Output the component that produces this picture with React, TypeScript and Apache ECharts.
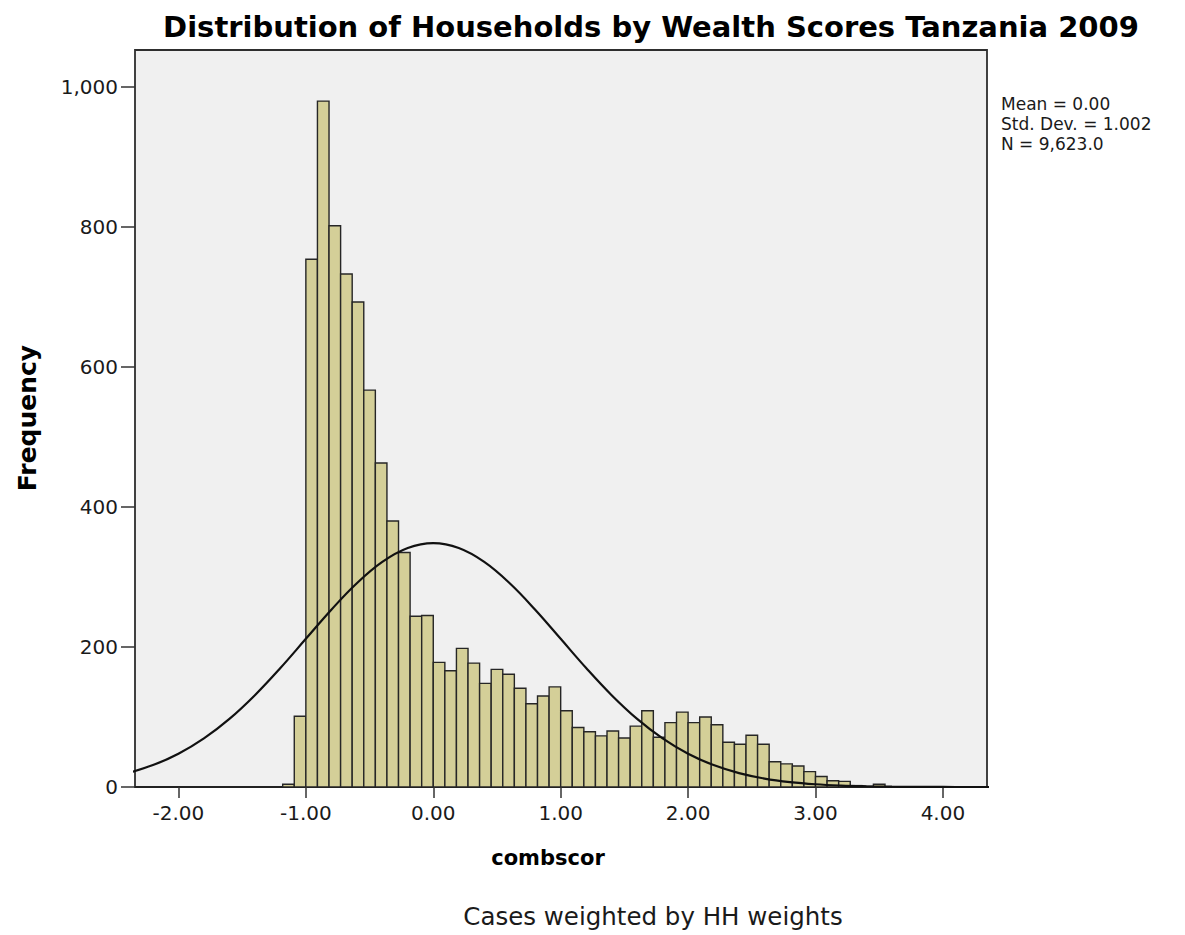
import React, { useEffect, useRef } from "react";
import * as echarts from "echarts";

// Histogram bins: width 1/11, first edge at -13/11
const BIN_WIDTH = 1 / 11;
const FIRST_EDGE = -13 / 11;
const counts = [
  4, 101, 754, 980, 802, 733, 693, 567, 463, 380, 335, 244, 245,
  178, 166, 198, 177, 148, 168, 161, 141, 119, 130, 143,
  109, 85, 79, 73, 80, 70, 87, 109, 71, 92, 107,
  92, 100, 89, 64, 61, 74, 61, 36, 33, 30, 22,
  15, 9, 8, 2, 1, 4,
];

// Normal curve
const normalX = [
  -2.4, -2.2, -2.0, -1.8, -1.6, -1.4, -1.2, -1.0, -0.8, -0.6, -0.4, -0.2, 0.0,
  0.2, 0.4, 0.6, 0.8, 1.0, 1.2, 1.4, 1.6, 1.8, 2.0, 2.2, 2.4, 2.6, 2.8, 3.0,
  3.2, 3.4, 3.6, 3.8, 4.0, 4.2, 4.4,
];
const normalY = [
  19.8, 31.3, 47.5, 69.4, 97.3, 131.2, 170.0, 211.7, 253.3, 291.1, 321.6, 341.4, 348.3,
  341.4, 321.6, 291.1, 253.3, 211.7, 170.0, 131.2, 97.3, 69.4, 47.5, 31.3, 19.8, 12.0, 7.0, 3.9,
  2.1, 1.1, 0.5, 0.2, 0.1, 0, 0,
];

const xTicks = [-2, -1, 0, 1, 2, 3, 4];
const yTicks = [0, 200, 400, 600, 800, 1000];
const statsLines = ["Mean = 0.00", "Std. Dev. = 1.002", "N = 9,623.0"];

const TITLE = "Distribution of Households by Wealth Scores Tanzania 2009";
const X_NAME = "combscor";
const Y_NAME = "Frequency";
const FOOTNOTE = "Cases weighted by HH weights";

const FONT = "DejaVu Sans";
const INK = "#1a1a1a";

export default function App() {
  const ref = useRef<HTMLDivElement>(null);

  useEffect(() => {
    if (!ref.current) return;
    const chart = echarts.init(ref.current, null, { renderer: "svg" });

    const barData = counts.map((c, i) => [
      FIRST_EDGE + i * BIN_WIDTH,
      FIRST_EDGE + (i + 1) * BIN_WIDTH,
      c,
    ]);
    const curveData = normalX.map((x, i) => [x, normalY[i]]);

    const statsGraphics = statsLines.map((t, i) => ({
      type: "text",
      x: 1001,
      y: 104 + i * 20,
      style: {
        text: t,
        font: `17px "${FONT}"`,
        fill: INK,
        textAlign: "left",
        align: "left",
        textVerticalAlign: "middle",
        verticalAlign: "middle",
      },
    }));

    const option: any = {
      animation: false,
      backgroundColor: "#ffffff",
      grid: {
        left: 135,
        right: 198,
        top: 50,
        bottom: 148,
        show: true,
        backgroundColor: "#f0f0f0",
        borderColor: "#2e2e2e",
        borderWidth: 1.8,
        containLabel: false,
      },
      xAxis: {
        type: "value",
        min: -2.341,
        max: 4.346,
        splitLine: { show: false },
        axisLine: { show: true, onZero: false, lineStyle: { color: "#222", width: 2 } },
        axisTick: {
          show: true,
          customValues: xTicks,
          length: 11,
          lineStyle: { color: "#333", width: 1.5 },
        },
        axisLabel: {
          customValues: xTicks,
          formatter: (v: number) => Number(v).toFixed(2),
          margin: 16,
          fontFamily: FONT,
          fontSize: 20,
          color: INK,
        },
      },
      yAxis: {
        type: "value",
        min: 0,
        max: 1053,
        splitLine: { show: false },
        axisLine: { show: false, onZero: false },
        axisTick: {
          show: true,
          customValues: yTicks,
          length: 14,
          lineStyle: { color: "#333", width: 1.5 },
        },
        axisLabel: {
          customValues: yTicks,
          formatter: (v: number) => Number(v).toLocaleString("en-US"),
          margin: 17,
          fontFamily: FONT,
          fontSize: 20,
          color: INK,
        },
      },
      series: [
        {
          type: "custom",
          data: barData,
          encode: { x: [0, 1], y: 2 },
          clip: true,
          renderItem: (params: any, api: any) => {
            const x0 = api.value(0);
            const x1 = api.value(1);
            const y = api.value(2);
            const p0 = api.coord([x0, y]);
            const p1 = api.coord([x1, 0]);
            return {
              type: "rect",
              shape: {
                x: p0[0],
                y: p0[1],
                width: p1[0] - p0[0],
                height: p1[1] - p0[1],
              },
              style: { fill: "#d4cf98", stroke: "#262626", lineWidth: 1.4 },
            };
          },
          z: 2,
        },
        {
          type: "line",
          data: curveData,
          smooth: 0.4,
          symbol: "none",
          clip: true,
          lineStyle: { color: "#111", width: 2.2 },
          z: 3,
        },
      ],
      graphic: [
        {
          type: "text",
          x: 651,
          y: 27,
          style: {
            text: TITLE,
            font: `bold 29px "${FONT}"`,
            fill: "#000",
            textAlign: "center",
            align: "center",
            textVerticalAlign: "middle",
            verticalAlign: "middle",
          },
        },
        {
          type: "text",
          x: 27,
          y: 418,
          rotation: Math.PI / 2,
          style: {
            text: Y_NAME,
            font: `bold 25px "${FONT}"`,
            fill: "#000",
            textAlign: "center",
            align: "center",
            textVerticalAlign: "middle",
            verticalAlign: "middle",
          },
        },
        {
          type: "text",
          x: 548,
          y: 858,
          style: {
            text: X_NAME,
            font: `bold 21px "${FONT}"`,
            fill: "#000",
            textAlign: "center",
            align: "center",
            textVerticalAlign: "middle",
            verticalAlign: "middle",
          },
        },
        {
          type: "text",
          x: 653,
          y: 916,
          style: {
            text: FOOTNOTE,
            font: `24.5px "${FONT}"`,
            fill: INK,
            textAlign: "center",
            align: "center",
            textVerticalAlign: "middle",
            verticalAlign: "middle",
          },
        },
        ...statsGraphics,
      ],
    };

    chart.setOption(option);
    return () => {
      chart.dispose();
    };
  }, []);

  return (
    <div
      ref={ref}
      style={{
        position: "absolute",
        left: 0,
        top: 0,
        width: 1185,
        height: 935,
        background: "#ffffff",
      }}
    />
  );
}
